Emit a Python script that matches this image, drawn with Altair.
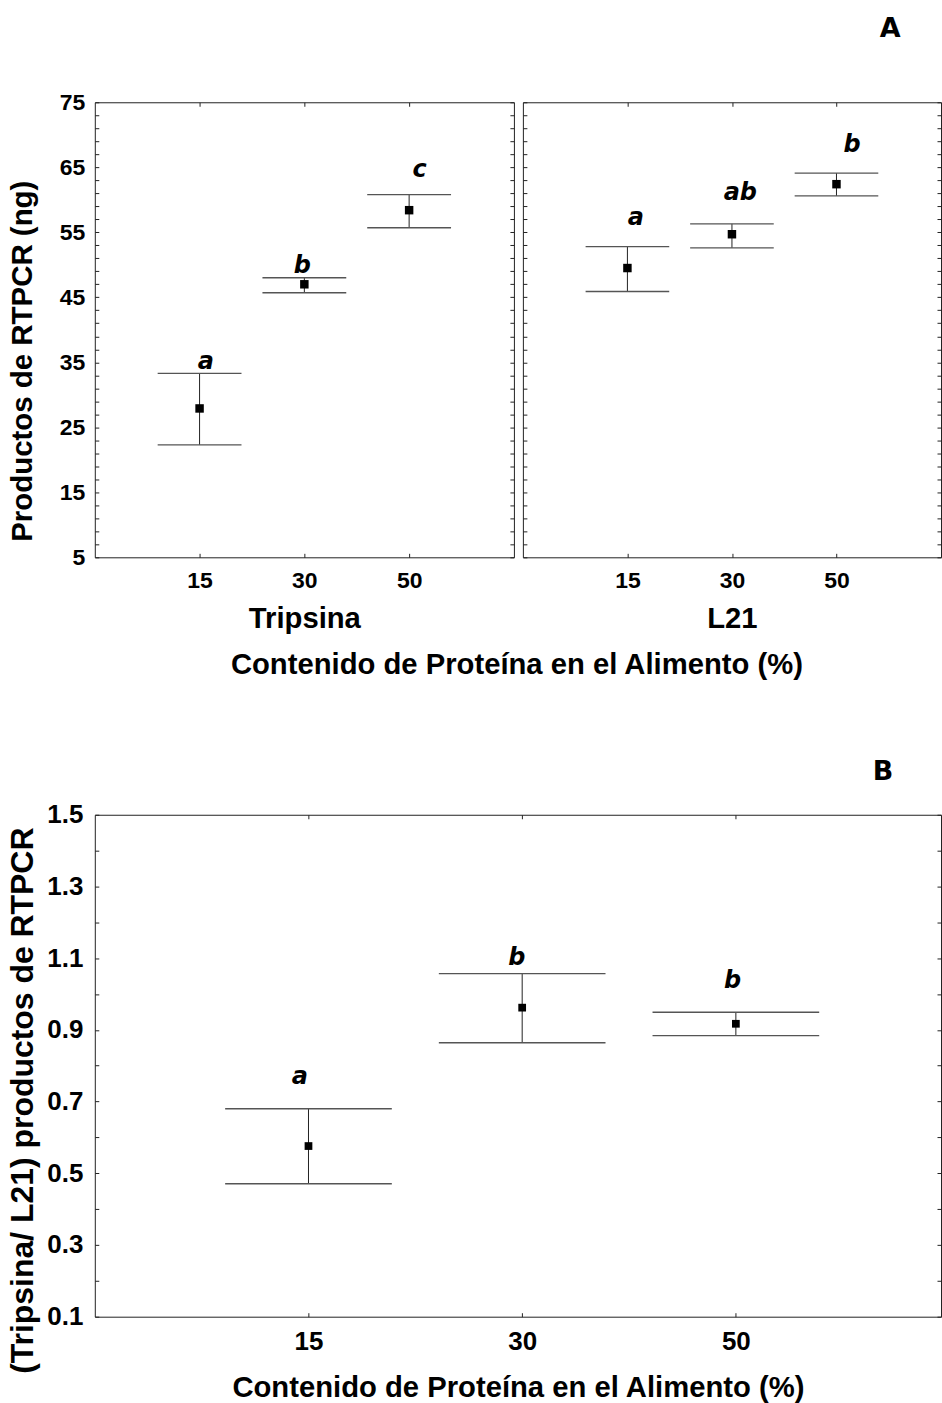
import altair as alt
import pandas as pd

# ---------------- data ----------------
protein = ["15", "30", "50"]
pos = [1, 2, 3]

tri_mean = [27.9, 47.0, 58.4]
tri_hi = [33.3, 48.0, 60.8]
tri_lo = [22.3, 45.7, 55.7]
tri_letters = ["a", "b", "c"]
tri_letter_x = [1.06, 1.98, 3.10]
tri_letter_y = [34.0, 48.8, 63.5]

l21_mean = [49.5, 54.7, 62.4]
l21_hi = [52.8, 56.3, 64.1]
l21_lo = [45.9, 52.6, 60.6]
l21_letters = ["a", "ab", "b"]
l21_letter_x = [1.08, 2.08, 3.15]
l21_letter_y = [56.1, 59.9, 67.3]

ratio_mean = [0.576, 0.962, 0.917]
ratio_hi = [0.680, 1.057, 0.949]
ratio_lo = [0.471, 0.864, 0.884]
ratio_letters = ["a", "b", "b"]
ratio_letter_x = [0.96, 1.975, 2.985]
ratio_letter_y = [0.749, 1.082, 1.016]

a_major = [5, 15, 25, 35, 45, 55, 65, 75]
a_minor = list(range(5, 76, 2))
b_major = [0.1, 0.3, 0.5, 0.7, 0.9, 1.1, 1.3, 1.5]
b_minor = [round(0.1 + 0.1 * i, 1) for i in range(15)]

FONT = "Liberation Sans"
LFONT = "DejaVu Sans"


def panel(mean, hi, lo, letters, lx, ly, ydom, ymajor, yminor, xdom, W, H, half,
          ytitle=None, ytitle_xy=None, ytitle_fs=29.5, xtitle=None, xtitle_y=None,
          ylabels=True, texts=None, sq=64, label_fs=23, xlab_pad=12, ylab_pad=10):
    df = pd.DataFrame({"pos": pos, "protein": protein, "mean": mean, "hi": hi,
                       "lo": lo, "letter": letters, "lx": lx, "ly": ly})
    xs = alt.Scale(domain=xdom, nice=False, zero=False)
    ys = alt.Scale(domain=ydom, nice=False, zero=False)
    label_expr = " : ".join(f"datum.value == {p} ? '{t}'" for p, t in zip(pos, protein)) + " : ''"

    xkw = dict(values=pos, labelExpr=label_expr, ticks=False, domain=False, grid=False,
               labelFont=FONT, labelFontSize=label_fs, labelFontWeight="bold",
               labelColor="black", labelPadding=xlab_pad)
    if xtitle:
        xkw.update(title=xtitle, titleFont=FONT, titleFontSize=29.3, titleFontWeight="bold",
                   titleColor="black", titleY=xtitle_y, titleBaseline="middle")
    else:
        xkw.update(title=None)
    x_lab_axis = alt.Axis(**xkw)

    base = alt.Chart(df)
    if ylabels:
        ykw = dict(values=ymajor, ticks=False, domain=False, grid=False,
                   labelFont=FONT, labelFontSize=label_fs, labelFontWeight="bold",
                   labelColor="black", labelPadding=ylab_pad)
        if ytitle:
            ykw.update(title=ytitle, titleFont=FONT, titleFontSize=ytitle_fs,
                       titleFontWeight="bold", titleColor="black", titleAngle=270,
                       titleX=ytitle_xy[0], titleY=ytitle_xy[1], titleAlign="center",
                       titleBaseline="middle")
        y_axis = alt.Axis(**ykw)
    else:
        y_axis = None

    stems = base.mark_rule(color="#222", strokeWidth=1).encode(
        x=alt.X("pos:Q", scale=xs, axis=x_lab_axis),
        y=alt.Y("lo:Q", scale=ys, axis=y_axis),
        y2="hi:Q",
    )
    caps = base.transform_fold(["hi", "lo"], as_=["which", "yv"]).transform_calculate(
        xl=f"datum.pos - {half}", xr=f"datum.pos + {half}"
    ).mark_rule(color="#555", strokeWidth=1.4).encode(
        x=alt.X("xl:Q", scale=xs, axis=None), x2="xr:Q",
        y=alt.Y("yv:Q", scale=ys, axis=None),
    )
    pts = base.mark_square(size=sq, color="black", opacity=1, filled=True).encode(
        x=alt.X("pos:Q", scale=xs, axis=None),
        y=alt.Y("mean:Q", scale=ys, axis=None),
    )
    lets = base.mark_text(font=LFONT, fontStyle="italic", fontWeight="bold", fontSize=24,
                          baseline="alphabetic", align="center", color="black").encode(
        x=alt.X("lx:Q", scale=xs, axis=None),
        y=alt.Y("ly:Q", scale=ys, axis=None),
        text="letter:N",
    )
    tk = dict(tickSize=4, labels=False, domain=False, grid=False, title=None,
              tickColor="#222", offset=-4)
    ticks1 = base.mark_point(opacity=0).encode(
        x=alt.X("pos:Q", scale=xs, axis=alt.Axis(orient="bottom", values=pos, **tk)),
        y=alt.Y("mean:Q", scale=ys, axis=alt.Axis(orient="left", values=yminor, **tk)),
    )
    ticks2 = base.mark_point(opacity=0).encode(
        x=alt.X("pos:Q", scale=xs, axis=alt.Axis(orient="top", values=pos, **tk)),
        y=alt.Y("mean:Q", scale=ys, axis=alt.Axis(orient="right", values=yminor, **tk)),
    )
    layers = [stems, caps, pts, lets, ticks1, ticks2]
    for (t, x, y, fam, fs) in (texts or []):
        layers.append(
            alt.Chart(pd.DataFrame({"t": [t]})).mark_text(
                font=fam, fontWeight="bold", fontSize=fs, align="center",
                baseline="middle", color="black"
            ).encode(x=alt.value(x), y=alt.value(y), text="t:N")
        )
    return alt.layer(*layers).resolve_axis(x="independent", y="independent").properties(
        width=W, height=H)


WA, HA = 420, 456
left = panel(tri_mean, tri_hi, tri_lo, tri_letters, tri_letter_x, tri_letter_y,
             [5, 75], a_major, a_minor, [0, 4], WA, HA, 0.4,
             ytitle="Productos de RTPCR (ng)", ytitle_xy=(-72, 259), ytitle_fs=29.5,
             xtitle="Tripsina", xtitle_y=61, sq=72,
             texts=[("Contenido de Proteína en el Alimento (%)", 423, HA + 108, FONT, 29.3)])
right = panel(l21_mean, l21_hi, l21_lo, l21_letters, l21_letter_x, l21_letter_y,
              [5, 75], a_major, a_minor, [0, 4], 419, HA, 0.4,
              xtitle="L21", xtitle_y=61, ylabels=False, sq=72,
              texts=[("A", 368, -73, LFONT, 27)])

WB, HB = 848, 503
bottom = panel(ratio_mean, ratio_hi, ratio_lo, ratio_letters, ratio_letter_x, ratio_letter_y,
               [0.1, 1.5], b_major, b_minor, [0, 3.96], WB, HB, 0.39,
               ytitle="(Tripsina/ L21) productos de RTPCR", ytitle_xy=(-72, 286),
               ytitle_fs=32, xtitle="Contenido de Proteína en el Alimento (%)", xtitle_y=71,
               texts=[("B", 790, -43, LFONT, 27)], sq=60, label_fs=26, xlab_pad=12,
               ylab_pad=12)

# with flush bounds the nested row adds no height, so the spacing runs
# from the top of panel A's plot to the top of panel B's plot
chart = alt.vconcat(
    alt.hconcat(left, right, spacing=9, bounds="flush"),
    bottom,
    spacing=HA + 258,
    bounds="flush",
).configure_view(stroke="#222", strokeWidth=1).properties(
    padding={"left": 6, "top": 13, "right": 0, "bottom": 0},
    background="white",
)

chart.save("out.html", embed_options={"renderer": "svg", "actions": False})
